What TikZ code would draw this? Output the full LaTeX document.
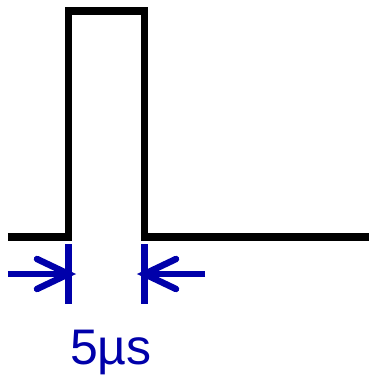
\documentclass[tikz,border=0pt]{standalone}
\usepackage{fontspec}
\setmainfont{Liberation Sans}
\definecolor{dimblue}{RGB}{0,0,170}
\begin{document}
\begin{tikzpicture}[x=1pt,y=-1pt,
  signal/.style={line width=7.5pt,black},
  dimline/.style={line width=6.5pt,dimblue},
  wing/.style={line width=6.5pt,dimblue,line cap=round}]
\useasboundingbox (0,0) rectangle (369,376);
\coordinate (s0) at (8,237);
\coordinate (s1) at (68.5,237);
\coordinate (s2) at (68.5,11);
\coordinate (s3) at (144.5,11);
\coordinate (s4) at (144.5,237);
\coordinate (s5) at (369,237);
\draw[signal] (s0) -- (s1) -- (s2) -- (s3) -- (s4) -- (s5);
% dimension lines
\coordinate (l1) at (68.5,244);
\coordinate (l2) at (68.5,304);
\coordinate (r1) at (144.5,244);
\coordinate (r2) at (144.5,304);
\draw[dimline] (l1) -- (l2);
\draw[dimline] (r1) -- (r2);
\coordinate (la) at (8,274);
\coordinate (lt) at (68.5,274);
\coordinate (ra) at (205,274);
\coordinate (rt) at (144.5,274);
\draw[dimline] (la) -- (lt);
\draw[dimline] (ra) -- (rt);
\coordinate (lw1) at (37,259);
\coordinate (lw2) at (37,289);
\coordinate (rw1) at (176,259);
\coordinate (rw2) at (176,289);
\draw[wing] (lw1) -- (lt) -- (lw2);
\draw[wing] (rw1) -- (rt) -- (rw2);
\node[dimblue,anchor=base,font=\fontsize{50}{50}\selectfont,inner sep=0pt] (lbl) at (111,364.5) {5µs};
\end{tikzpicture}
\end{document}
